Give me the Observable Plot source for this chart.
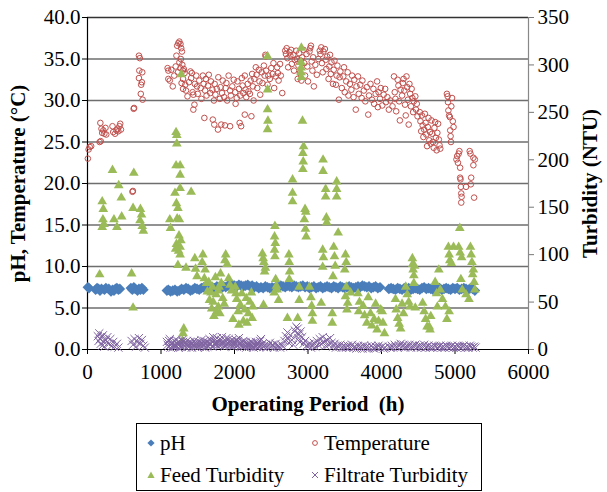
<!DOCTYPE html>
<html>
<head>
<meta charset="utf-8">
<script src="https://cdn.jsdelivr.net/npm/d3@7"></script>
<script src="https://cdn.jsdelivr.net/npm/@observablehq/plot@0.6"></script>
<style>
  body { margin: 0; background: #fff; }
  #wrap { width: 607px; font-family: 'Liberation Serif'; color: #000; }
  #legend { position: relative; margin-left: 136px; margin-top: 5px; width: 344px; height: 66px; border: 1px solid #000; font-size: 21px; font-family: 'Liberation Serif'; }
  .item { position: absolute; height: 26px; line-height: 26px; display: flex; align-items: center; white-space: nowrap; }
  .item svg { margin-right: 4px; }
</style>
</head>
<body>
<div id="wrap">
  <div id="chart"></div>
  <div id="legend"></div>
</div>
<script>
// ---- axis tick values ----
const xTicks = [0, 1000, 2000, 3000, 4000, 5000, 6000];
const leftTicks = [0, 5, 10, 15, 20, 25, 30, 35, 40];
const rightTicks = [0, 50, 100, 150, 200, 250, 300, 350];

// ---- series names ----
const seriesNames = ["pH", "Temperature", "Feed Turbidity", "Filtrate Turbidity"];

// ---- pH [hours, pH] ----
const phData = [
[5,7.5],[20,7.4],[110,7.2],[130,7.4],[150,7.3],[170,7.1],[190,7.3],[230,7.2],[250,7.4],[290,7.3],[320,7.0],[340,7.2],[360,7.1],[380,7.3],[400,7.4],[420,7.2],[440,7.3],
[590,7.4],[610,7.2],[630,7.5],[650,7.3],[680,7.1],[700,7.3],[720,7.2],[740,7.4],[760,7.2],
[1080,7.1],[1100,7.2],[1130,7.0],[1160,7.1],[1190,7.2],[1220,7.0],[1250,7.1],[1280,7.3],[1310,7.2],[1340,7.4],[1370,7.3],[1400,7.1],[1430,7.2],[1460,7.4],[1490,7.3],[1520,7.2],[1550,7.4],[1580,7.5],[1610,7.3],[1640,7.4],[1670,7.2],[1700,7.5],[1730,7.4],[1760,7.6],[1790,7.5],[1820,7.4],[1850,7.6],[1880,7.5],[1910,7.7],[1940,7.6],[1970,7.8],
[2000,7.7],[2030,7.6],[2060,7.8],[2090,7.7],[2120,7.6],[2150,7.7],[2180,7.8],[2210,7.6],[2240,7.7],[2270,7.5],[2300,7.6],[2330,7.4],[2360,7.5],[2390,7.4],[2420,7.6],[2450,7.5],[2480,7.4],[2510,7.5],[2540,7.4],[2570,7.6],[2600,7.5],[2630,7.7],[2660,7.6],[2690,7.5],[2720,7.7],[2750,7.6],[2780,7.5],[2810,7.7],[2840,7.6],[2870,7.5],[2900,7.6],[2930,7.7],[2960,7.5],[2990,7.6],
[3020,7.4],[3050,7.5],[3080,7.6],[3110,7.4],[3140,7.5],[3170,7.6],[3200,7.4],[3230,7.5],[3260,7.6],[3290,7.5],[3320,7.4],[3350,7.6],[3380,7.5],[3410,7.4],[3440,7.6],[3470,7.5],[3500,7.4],[3530,7.5],[3560,7.6],[3590,7.5],[3620,7.4],[3650,7.5],[3680,7.6],[3710,7.5],[3740,7.7],[3770,7.6],[3800,7.5],[3830,7.6],[3860,7.4],[3890,7.5],[3920,7.6],[3950,7.4],[3980,7.5],
[4100,7.3],[4130,7.4],[4160,7.3],[4190,7.2],[4220,7.4],[4250,7.3],[4280,7.2],[4310,7.4],[4340,7.3],[4370,7.4],[4400,7.2],[4430,7.3],[4460,7.4],[4490,7.3],[4520,7.2],[4550,7.4],[4580,7.5],[4610,7.3],[4640,7.4],[4670,7.3],[4700,7.2],[4730,7.4],[4760,7.3],[4790,7.4],[4820,7.2],[4850,7.3],[4880,7.4],[4910,7.3],[4940,7.2],[4970,7.4],
[5000,7.3],[5030,7.4],[5060,7.2],[5090,7.3],[5120,7.4],[5150,7.3],[5180,7.2],[5210,7.4],[5240,7.3],[5270,7.1]
];

// ---- Temperature [hours, °C] ----
const tempData = [
[5,23.0],[15,24.1],[30,24.4],[50,24.5],
[165,25.0],[180,25.1],[175,27.3],[190,26.6],[200,26.1],[215,26.4],[230,26.0],[245,26.7],[255,25.9],
[340,26.9],[350,26.2],[375,26.0],[395,26.4],[410,26.6],[420,26.3],[435,26.9],[445,27.2],[455,26.5],
[612,19.0],[618,19.1],[628,29.0],[634,29.1],
[700,35.4],[712,35.1],[705,33.6],[745,33.4],[700,32.7],[740,32.2],[730,31.9],[725,30.8],[750,30.1],
[1090,33.9],[1100,33.6],[1100,32.6],[1120,32.4],[1140,33.7],[1160,31.7],[1180,33.0],
[1200,34.1],[1210,35.4],[1220,36.6],[1235,36.9],[1250,37.1],[1265,36.8],[1275,36.3],[1285,35.9],[1230,33.4],[1250,34.6],[1265,33.9],[1270,35.0],[1290,34.3],[1300,33.6],[1300,32.6],[1310,33.8],[1320,33.3],[1280,32.1],[1330,31.9],[1340,31.2],[1300,31.4],
[1360,30.5],[1380,32.2],[1400,33.5],[1410,32.7],[1420,33.3],[1430,31.0],[1440,30.7],[1455,29.5],[1440,28.9],[1460,32.0],[1480,33.0],[1490,31.7],[1500,30.8],[1520,32.4],[1540,31.5],[1550,30.2],[1570,33.0],[1580,32.0],[1590,27.9],[1600,31.2],[1610,32.6],[1620,30.6],[1640,31.8],[1650,33.1],[1670,30.9],[1680,32.3],[1700,31.3],[1705,27.7],[1725,27.1],[1720,30.0],[1730,32.0],[1740,30.7],[1775,26.5],[1760,31.4],[1780,32.8],[1820,27.1],[1800,30.2],[1810,31.6],[1830,30.9],[1840,32.4],[1870,27.0],[1860,30.4],[1880,31.5],[1890,32.1],[1900,30.0],[1940,26.9],[1920,33.0],[1940,31.2],[1950,30.6],[1970,31.7],[1990,32.5],
[2010,31.0],[2015,29.6],[2030,30.3],[2070,27.3],[2090,26.9],[2040,32.3],[2060,31.4],[2080,30.6],[2100,32.7],[2110,31.8],[2120,30.9],[2140,28.3],[2140,33.0],[2150,31.3],[2160,30.4],[2180,32.0],[2190,31.1],[2230,28.1],[2210,30.8],[2220,32.4],[2240,33.2],[2250,31.7],[2260,30.0],[2270,32.6],[2290,34.0],[2300,33.1],[2310,31.5],[2330,33.7],[2340,32.3],[2350,30.7],[2370,33.4],[2380,32.1],[2400,34.2],[2410,33.0],[2420,35.5],[2425,35.3],[2430,33.6],[2450,31.9],[2460,33.0],[2480,32.6],[2500,33.9],[2520,33.2],[2530,34.5],[2540,31.5],[2560,32.9],[2580,34.0],[2590,33.3],[2600,32.4],[2620,34.4],[2630,33.0],[2650,30.9],
[2690,36.0],[2700,35.6],[2710,36.3],[2720,35.1],[2730,34.0],[2750,35.8],[2760,35.4],[2770,36.1],[2780,34.4],[2800,35.5],[2810,33.6],[2820,34.9],[2840,36.0],[2850,35.0],[2860,32.6],[2870,34.2],[2880,35.7],[2890,33.3],[2900,34.8],[2910,32.4],[2920,35.2],[2940,36.1],[2950,34.5],[2960,33.0],[2980,35.6],[2990,34.1],[3000,32.3],[3020,35.9],[3030,36.3],[3040,36.6],[3050,34.7],[3060,33.6],[3070,35.2],[3080,31.7],[3100,34.3],[3120,33.1],[3140,35.0],[3160,36.0],[3170,35.6],[3180,36.4],[3190,34.5],[3200,33.4],[3210,35.9],[3230,36.2],[3240,34.9],[3250,33.8],[3260,35.3],[3280,32.6],[3290,34.1],[3300,35.5],[3310,33.2],[3320,34.6],[3340,32.0],[3350,33.7],[3360,34.8],[3380,31.9],[3390,33.0],[3400,34.2],[3420,30.1],[3430,32.8],[3440,33.5],
[3460,31.5],[3480,32.9],[3490,34.0],[3500,31.0],[3520,32.3],[3540,33.4],[3550,30.6],[3570,32.0],[3590,31.3],[3600,33.0],[3620,30.4],[3630,32.5],[3650,28.9],[3660,31.7],[3680,32.9],[3690,30.8],[3710,31.9],[3730,30.3],[3740,32.4],[3760,31.2],[3780,29.9],[3800,31.6],[3820,28.3],[3830,30.6],[3850,32.0],[3870,30.1],[3890,31.4],[3900,29.6],[3920,30.8],[3940,32.3],[3950,29.2],[3960,31.0],[3980,30.2],[3990,31.5],
[4010,29.4],[4030,30.7],[4050,31.4],[4060,29.8],[4080,30.4],[4100,28.9],[4120,30.0],[4150,29.3],[4170,32.9],[4180,31.0],[4190,30.2],[4200,28.7],[4220,32.5],[4230,31.8],[4240,29.9],[4250,27.6],[4260,31.3],[4280,30.6],[4290,32.1],[4300,32.6],[4310,31.2],[4320,29.5],[4330,28.2],[4340,32.9],[4350,31.6],[4360,30.1],[4370,27.1],[4380,32.0],[4390,30.8],[4400,29.3],[4410,31.4],[4420,30.3],[4430,28.6],[4440,29.9],[4460,30.5],[4470,28.9],[4480,29.6],[4490,28.1],
[4520,28.6],[4530,27.5],[4540,26.3],[4550,28.2],[4560,27.0],[4570,25.6],[4580,26.5],[4590,28.4],[4600,27.3],[4610,25.9],[4620,24.5],[4630,26.8],[4640,27.9],[4650,25.2],[4660,26.2],[4670,24.8],[4680,27.6],[4690,26.0],[4700,25.0],[4710,24.3],[4720,26.7],[4730,27.4],[4740,25.5],[4750,24.0],[4760,26.1],[4770,27.2],[4780,25.3],[4790,24.6],[4800,24.2],
[4890,30.8],[4900,30.5],[4905,29.8],[4910,28.8],[4920,28.2],[4930,28.0],[4935,26.4],[4940,25.7],[4945,25.0],[4950,29.3],[4960,30.3],[4970,27.5],[4980,26.8],
[5020,22.9],[5030,23.3],[5040,22.5],[5050,23.6],[5060,23.9],[5070,21.9],[5070,20.7],[5075,20.5],[5080,19.6],[5085,18.8],[5090,18.4],[5085,17.7],[5200,23.9],[5210,23.6],[5250,23.1],[5270,22.9],[5250,22.2],[5220,20.7],[5215,19.9],[5260,18.3],[5150,19.6]
];

// ---- Feed Turbidity [hours, NTU] ----
const feedData = [
[165,79],[200,156],[215,148],[210,137],[225,132],[200,129],[340,189],[360,137],[400,129],[425,173],[460,160],[465,140],[600,80],[620,44],[620,149],[630,186],[720,148],[735,142],[715,136],[745,130],[760,125],
[1120,137],[1130,128],[1190,165],[1210,154],[1230,149],[1220,138],[1250,137],[1210,111],[1240,104],[1260,100],[1230,89],[1275,290],[1205,229],[1215,226],[1215,217],[1205,194],[1260,194],[1260,184],[1260,170],[1200,106],[1310,22],[1300,17],[1290,9],[1340,86],[1410,166],[1270,115],[1245,120],[1260,108],
[1460,96],[1470,85],[1490,77],[1570,100],[1590,75],[1560,92],[1630,61],[1660,52],[1690,43],[1720,35],[1700,66],[1750,58],[1780,45],[1790,66],[1810,80],[1820,70],[1840,54],[1860,48],[1880,100],[1900,90],[1920,75],[1940,68],[1960,62],[1980,32],[1780,62],[1800,38],[1870,94],[1650,71],[1740,76],[1600,84],[1620,70],[1680,60],[1710,50],[1760,40],
[2010,66],[2020,59],[2030,53],[2050,40],[2060,26],[2080,47],[2100,59],[2120,30],[2140,42],[2160,54],[2170,28],[2190,38],[2210,50],[2230,60],[2240,33],[2250,45],
[2380,101],[2400,92],[2420,86],[2390,96],[2410,82],[2395,47],[2450,309],[2450,274],[2450,253],[2455,241],[2450,232],
[2550,130],[2545,119],[2555,112],[2545,105],[2550,98],[2560,74],[2570,67],[2580,63],[2540,60],[2600,52],[2720,33],[2740,100],[2745,92],[2750,82],[2745,74],[2790,179],[2790,165],[2790,156],[2860,33],[2880,52],[2880,66],
[2910,318],[2905,303],[2905,297],[2905,292],[2910,287],[2925,241],[2940,214],[2930,207],[2935,198],[2930,190],[2960,148],[2970,145],[2950,137],[2965,127],[2975,119],[3020,66],[3040,55],[3050,46],[3060,38],[3060,30],
[3205,200],[3205,188],[3240,169],[3240,161],[3250,139],[3255,134],[3200,105],[3210,97],[3200,87],[3180,49],[3390,177],[3390,169],[3390,161],[3410,123],[3350,108],[3360,98],[3370,88],[3340,77],[3330,38],[3330,28],[3510,100],[3520,92],[3500,84],[3520,66],[3510,56],[3540,49],[3530,42],[3580,60],
[3680,59],[3700,50],[3690,40],[3750,46],[3770,36],[3800,28],[3820,55],[3850,38],[3870,25],[3900,32],[3920,48],[3940,21],[3960,30],[3990,42],[4010,40],[4020,28],[4040,17],
[4190,53],[4200,42],[4220,33],[4240,27],[4260,22],[4280,48],[4300,38],[4330,66],[4350,58],[4370,50],[4390,45],[4420,96],[4425,90],[4430,84],[4440,78],[4440,70],[4450,88],[4460,44],
[4560,49],[4580,40],[4600,32],[4620,24],[4650,24],[4660,21],[4670,35],[4730,71],[4750,59],[4760,45],[4780,84],[4800,63],[4830,53],[4870,45],[4890,32],[4920,40],
[4910,108],[4920,100],[4930,94],[4950,91],[4980,108],[5050,108],[5065,128],[5070,102],[5090,97],[5080,74],[5100,63],[5150,58],[5190,53],[5210,108],[5220,100],[5230,92],[5250,84],[5240,79],[5260,71],[5270,63]
];

// ---- Filtrate Turbidity [hours, NTU] ----
const filtrateData = [
[140,14],[150,9],[160,17],[170,11],[180,6],[190,13],[200,4],[210,15],[220,8],[230,3],[250,10],[270,13],[290,6],[310,11],[330,4],[350,8],[370,3],[400,6],[420,2],
[600,9],[620,5],[640,11],[660,3],[680,8],[700,12],[720,6],[740,10],[760,4],[780,2],
[1080,8],[1090,5],[1100,3],[1110,9],[1120,11],[1130,2],[1140,5],[1150,7],[1160,2],[1170,4],[1180,9],[1190,3],[1200,4],[1210,10],[1220,7],[1230,5],[1240,2],[1250,8],[1260,6],[1270,3],[1280,3],[1290,10],[1300,8],[1310,5],[1320,4],[1330,7],[1340,2],[1350,9],[1360,6],[1370,4],[1380,3],[1390,8],[1400,7],[1410,5],[1420,2],[1430,6],[1440,5],[1450,9],[1460,3],[1470,7],[1480,6],[1490,4],[1500,2],[1510,8],[1520,4],[1530,5],[1540,7],[1550,10],[1560,3],[1570,6],[1580,5],[1590,9],[1600,2],[1610,6],[1620,8],[1630,3],[1640,4],[1650,7],[1660,11],[1670,5],[1680,6],[1690,9],[1700,3],[1710,13],[1720,9],[1730,6],[1740,5],[1750,8],[1760,12],[1770,4],[1780,7],[1790,10],[1800,4],[1810,6],[1820,10],[1830,13],[1840,6],[1850,8],[1860,3],[1870,5],[1880,9],[1890,12],[1900,5],[1910,7],[1920,11],[1930,8],[1940,4],[1950,6],[1960,8],[1970,10],[1980,3],[1990,5],
[2000,6],[2010,8],[2020,10],[2030,5],[2040,4],[2050,9],[2060,12],[2070,6],[2080,7],[2090,4],[2100,3],[2110,7],[2120,9],[2130,3],[2140,5],[2150,8],[2160,2],[2170,5],[2180,6],[2190,4],[2200,3],[2210,6],[2220,8],[2230,3],[2240,4],[2250,7],[2260,2],[2270,4],[2280,5],[2290,8],[2300,3],[2310,5],[2320,7],[2330,3],[2340,4],[2350,9],[2360,11],[2370,5],[2380,6],[2390,3],[2400,3],[2420,5],[2440,2],[2460,4],[2480,7],[2500,3],[2520,5],[2540,2],[2560,6],[2580,3],[2600,4],[2620,2],[2640,5],[2660,3],[2680,9],[2700,14],[2720,18],[2730,11],[2740,7],[2760,15],[2780,10],[2800,5],[2820,20],[2840,24],[2850,17],[2860,22],[2870,12],[2880,16],[2890,8],[2900,19],[2920,13],[2940,6],[2960,9],[2980,4],
[3000,3],[3020,6],[3040,2],[3060,4],[3080,7],[3100,3],[3120,9],[3140,5],[3160,11],[3180,6],[3200,13],[3220,8],[3240,4],[3260,10],[3280,5],[3300,12],[3320,7],[3340,3],[3360,6],[3380,2],[3400,4],[3420,3],[3440,5],[3460,2],[3480,4],[3500,3],[3520,2],[3540,4],[3560,2],[3580,3],[3600,5],[3620,2],[3640,3],[3660,1],[3680,4],[3700,2],[3720,3],[3740,1],[3760,4],[3780,2],[3800,3],[3820,1],[3840,2],[3860,4],[3880,2],[3900,1],[3920,3],[3940,2],[3960,4],[3980,2],
[4010,3],[4030,1],[4050,2],[4100,3],[4120,2],[4140,4],[4160,2],[4180,5],[4200,3],[4220,2],[4240,4],[4260,6],[4280,3],[4300,5],[4320,2],[4340,4],[4360,3],[4380,5],[4400,2],[4420,4],[4440,3],[4460,5],[4480,2],[4500,3],[4520,4],[4540,2],[4560,3],[4580,5],[4600,2],[4620,3],[4640,4],[4660,2],[4680,3],[4700,2],[4720,4],[4740,3],[4760,2],[4780,3],[4800,4],[4820,2],[4840,3],[4860,2],[4880,4],[4900,3],[4920,2],[4940,3],[4960,4],[4980,2],
[5000,3],[5020,2],[5040,4],[5060,3],[5080,2],[5100,3],[5120,4],[5140,2],[5160,3],[5180,2],[5200,4],[5220,3],[5240,2],[5260,3],[5280,2]
];

// ---- styles ----
const colors = { ph: "#4a7ebb", temp: "#c0504d", feed: "#9bbb59", filt: "#8064a2" };
const FONT = "'Liberation Serif'";

// right (turbidity) axis maps onto the left scale: 350 NTU <-> 40
const leftMax = leftTicks[leftTicks.length - 1];
const rightMax = rightTicks[rightTicks.length - 1];
const toLeft = v => v * leftMax / rightMax;

const chart = Plot.plot({
  width: 607,
  height: 418,
  marginLeft: 87,
  marginRight: 79,
  marginTop: 17,
  marginBottom: 69,
  style: { fontFamily: FONT, fontSize: "21px", color: "#000", background: "#fff", overflow: "visible" },
  x: { domain: [xTicks[0], xTicks[xTicks.length - 1]] },
  y: { domain: [0, leftMax] },
  marks: [
    Plot.ruleY(leftTicks.filter(d => d > 0 && d < leftMax), { stroke: "#6e6e6e", strokeWidth: 1.5 }),
    Plot.ruleY([leftMax], { stroke: "#333", strokeWidth: 1.5 }),
    Plot.axisX({ ticks: xTicks, tickSize: 5, tickPadding: 10, tickFormat: d => String(d), label: null, stroke: "#000", fontFamily: FONT }),
    Plot.axisY({ anchor: "left", ticks: leftTicks, tickSize: 5, tickPadding: 2, tickFormat: d => d.toFixed(1), label: null, stroke: "#000", fontFamily: FONT }),
    Plot.axisY({ anchor: "right", ticks: rightTicks.map(toLeft), tickSize: 5, tickPadding: 4,
      tickFormat: d => String(Math.round(d * rightMax / leftMax)), label: null, stroke: "#777", fontFamily: FONT }),
    Plot.ruleX([xTicks[0]], { stroke: "#000", strokeWidth: 1.2 }),
    Plot.ruleX([xTicks[xTicks.length - 1]], { stroke: "#888", strokeWidth: 1.2 }),
    Plot.ruleY([0], { stroke: "#000", strokeWidth: 1.2 }),
    // series
    Plot.dot(phData, { x: d => d[0], y: d => d[1], symbol: "diamond2", r: 4.8, fill: colors.ph, stroke: "none" }),
    Plot.dot(tempData, { x: d => d[0], y: d => d[1], symbol: "circle", r: 2.8, fill: "none", stroke: colors.temp, strokeWidth: 1 }),
    Plot.dot(feedData, { x: d => d[0], y: d => toLeft(d[1]), symbol: "triangle", r: 3.6, fill: colors.feed, stroke: "none" }),
    Plot.dot(filtrateData, { x: d => d[0], y: d => toLeft(d[1]), symbol: "times", r: 3.8, fill: "none", stroke: colors.filt, strokeWidth: 1 }),
    // axis titles
    Plot.text(["Operating Period  (h)"], { frameAnchor: "bottom", dy: 55, text: d => d, fontWeight: "bold", fontSize: 21, lineAnchor: "middle", textAnchor: "middle", fontFamily: FONT }),
    Plot.text(["pH, Temperature (°C)"], { frameAnchor: "left", dx: -69, rotate: -90, text: d => d, fontWeight: "bold", fontSize: 21, lineAnchor: "middle", textAnchor: "middle", fontFamily: FONT }),
    Plot.text(["Turbidity (NTU)"], { frameAnchor: "right", dx: 62, rotate: -90, text: d => d, fontWeight: "bold", fontSize: 21, lineAnchor: "middle", textAnchor: "middle", fontFamily: FONT })
  ]
});
document.getElementById("chart").appendChild(chart);

// ---- legend ----
const markerSvg = {
  "pH": `<svg width="10" height="10" viewBox="-5 -5 10 10"><path d="M0,-3.6L3.6,0L0,3.6L-3.6,0Z" fill="${colors.ph}"/></svg>`,
  "Temperature": `<svg width="10" height="10" viewBox="-5 -5 10 10"><circle r="2.4" fill="none" stroke="${colors.temp}" stroke-width="1"/></svg>`,
  "Feed Turbidity": `<svg width="10" height="10" viewBox="-5 -5 10 10"><path d="M0,-3.5L3.6,3L-3.6,3Z" fill="${colors.feed}"/></svg>`,
  "Filtrate Turbidity": `<svg width="10" height="10" viewBox="-5 -5 10 10"><path d="M-3,-3L3,3M3,-3L-3,3" stroke="${colors.filt}" stroke-width="1"/></svg>`
};
const legendPos = [[9, 6], [173, 6], [9, 38], [173, 38]];
const legend = document.getElementById("legend");
seriesNames.forEach((name, i) => {
  const el = document.createElement("div");
  el.className = "item";
  el.style.left = legendPos[i][0] + "px";
  el.style.top = legendPos[i][1] + "px";
  el.innerHTML = markerSvg[name] + `<span>${name}</span>`;
  legend.appendChild(el);
});
</script>
</body>
</html>
